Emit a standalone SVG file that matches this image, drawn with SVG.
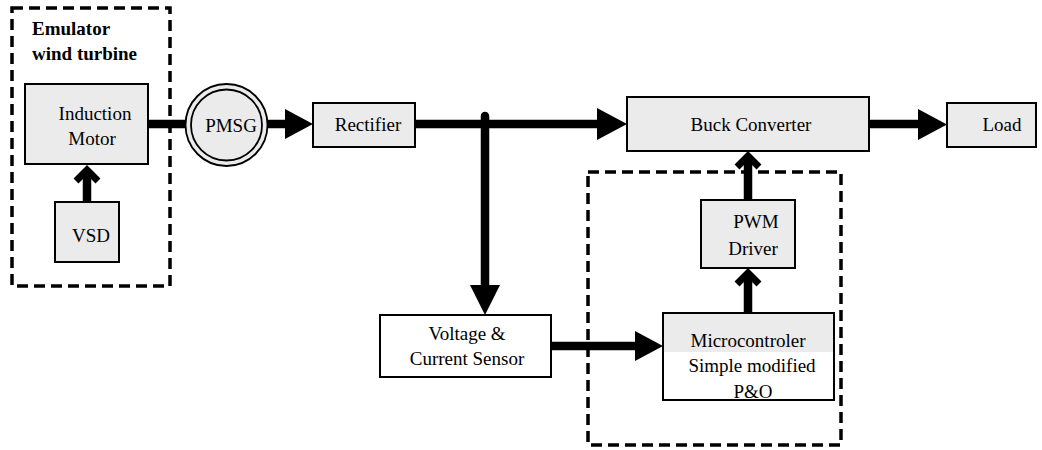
<svg xmlns="http://www.w3.org/2000/svg" width="1042" height="450" viewBox="0 0 1042 450">
<style>
.box{fill:#ebebeb;stroke:#000;stroke-width:2}
.wbox{fill:#fff;stroke:#000;stroke-width:2}
.dash{fill:none;stroke:#000;stroke-width:3.5;stroke-dasharray:11 6}
.t{font-family:'Liberation Serif',serif;font-size:19px;fill:#000;text-anchor:middle}
.b{font-family:'Liberation Serif',serif;font-size:19px;font-weight:bold;fill:#000}
.ln{fill:none;stroke:#000;stroke-width:8.5}
.rc{stroke-linecap:round}
.hd{fill:#000}
.chev{fill:none;stroke:#000;stroke-width:7;stroke-linejoin:miter}
</style>
<rect width="1042" height="450" fill="#fff"/>

<g id="emulator-group">
<rect class="dash" x="12" y="8" width="158" height="278"/>
<text class="b" x="32" y="35">Emulator</text>
<text class="b" x="32" y="60">wind turbine</text>
</g>
<g id="controller-group">
<rect class="dash" x="588" y="172" width="253" height="273"/>
</g>

<g id="connectors">
<line class="ln" x1="148" y1="124" x2="186" y2="124"/>
<line class="ln" x1="87" y1="202" x2="87" y2="172"/>
<path class="chev" d="M76,181 L87,170 L98,181"/>
<line class="ln" x1="267" y1="124" x2="286" y2="124"/>
<polygon class="hd" points="285,109 313,124 285,139"/>
<line class="ln rc" x1="415" y1="124" x2="598" y2="124"/>
<polygon class="hd" points="597,108 627,124 597,140"/>
<line class="ln rc" x1="485" y1="116" x2="485" y2="287"/>
<polygon class="hd" points="470,285 485,315 500,285"/>
<line class="ln rc" x1="869" y1="124" x2="919" y2="124"/>
<polygon class="hd" points="918,109 947,124.5 918,140"/>
<line class="ln rc" x1="551" y1="346" x2="636" y2="346"/>
<polygon class="hd" points="635,331 663,346 635,361"/>
<line class="ln" x1="748" y1="313" x2="748" y2="273"/>
<path class="chev" d="M737,284 L748,273 L759,284"/>
<line class="ln" x1="748" y1="200" x2="748" y2="156"/>
<path class="chev" d="M737,167 L748,156 L759,167"/>
</g>

<g id="induction-motor">
<rect class="box" x="25" y="84" width="123" height="80"/>
<text class="t" x="95" y="120">Induction</text>
<text class="t" x="92" y="145">Motor</text>
</g>
<g id="vsd">
<rect class="box" x="55" y="202" width="64" height="60"/>
<text class="t" x="91" y="242">VSD</text>
</g>
<g id="pmsg">
<circle cx="226.5" cy="125" r="41" fill="#ebebeb" stroke="#000" stroke-width="1.8"/>
<circle cx="226.5" cy="125" r="35.5" fill="none" stroke="#000" stroke-width="1.8"/>
<text class="t" x="231" y="132">PMSG</text>
</g>
<g id="rectifier">
<rect class="box" x="313" y="103" width="102" height="44"/>
<text class="t" x="368" y="131">Rectifier</text>
</g>
<g id="buck-converter">
<rect class="box" x="627" y="97" width="242" height="54"/>
<text class="t" x="751" y="131">Buck Converter</text>
</g>
<g id="load">
<rect class="box" x="947" y="103" width="89" height="44"/>
<text class="t" x="1002" y="131">Load</text>
</g>
<g id="sensor">
<rect class="wbox" x="380" y="315" width="171" height="62"/>
<text class="t" x="467" y="340">Voltage &amp;</text>
<text class="t" x="467" y="365">Current Sensor</text>
</g>
<g id="pwm-driver">
<rect class="box" x="701" y="200" width="94" height="68"/>
<text class="t" x="756" y="228">PWM</text>
<text class="t" x="753" y="255">Driver</text>
</g>
<g id="microcontroller">
<rect x="664" y="314" width="169" height="38" fill="#ebebeb"/>
<text class="t" x="748" y="347">Microcontroler</text>
<text class="t" x="752" y="372">Simple modified</text>
<text class="t" x="753" y="398">P&amp;O</text>
<rect x="663" y="313" width="171" height="87" fill="none" stroke="#000" stroke-width="2"/>
</g>
</svg>
